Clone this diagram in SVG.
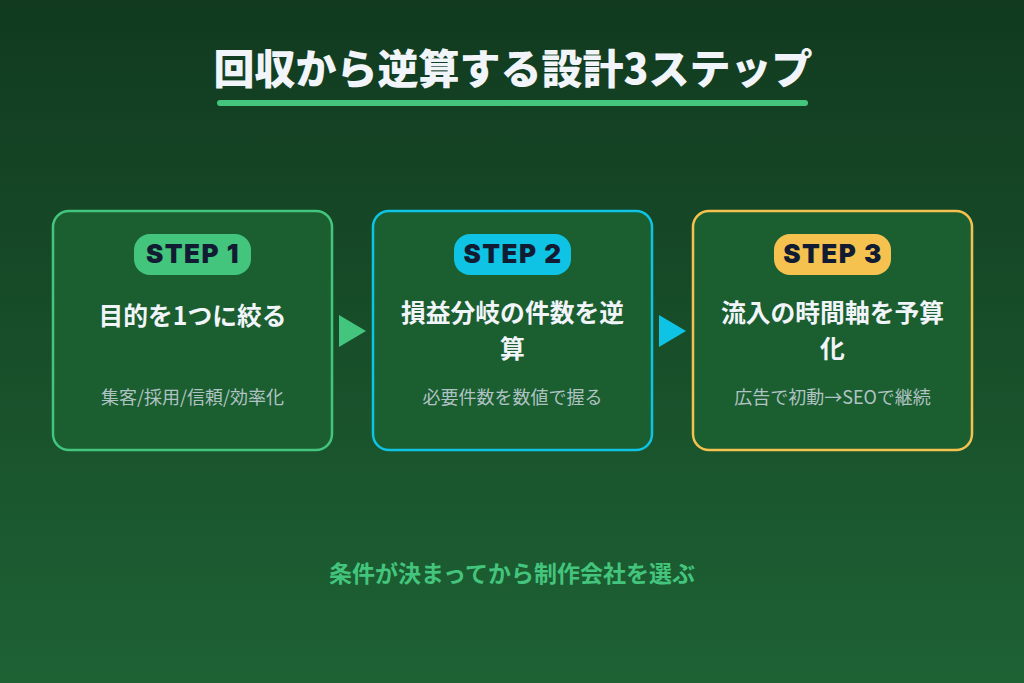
<svg xmlns="http://www.w3.org/2000/svg" width="1024" height="683" viewBox="0 0 1024 683">
<defs>
<linearGradient id="bg" x1="0" y1="0" x2="0" y2="1">
<stop offset="0" stop-color="#113a1f"/>
<stop offset="1" stop-color="#1e6234"/>
</linearGradient>
<style>
.card{fill:#1b5e30;stroke-width:2.5}
.badge-t{font-family:Inter,"Liberation Sans",sans-serif;font-weight:900;font-size:26px;letter-spacing:1.5px;fill:#111c33;text-anchor:middle}
.head{font-family:"Noto Sans CJK JP",sans-serif;font-weight:700;font-size:24.8px;fill:#f1f5f9;text-anchor:middle}
.sub{font-family:"Noto Sans CJK JP",sans-serif;font-size:18px;fill:#b0c3c4;text-anchor:middle}
</style>
</defs>
<rect width="1024" height="683" fill="url(#bg)"/>
<g id="title">
<text x="513" y="84" text-anchor="middle" font-family="'Noto Sans CJK JP',sans-serif" font-weight="900" font-size="41" fill="#f1f5f9">回収から逆算する設計3ステップ</text>
<rect x="217" y="100" width="591" height="6" rx="3" fill="#43c57d"/>
</g>
<g id="step1">
<rect class="card" x="53" y="211" width="279" height="239" rx="16" stroke="#43c57d"/>
<rect x="134" y="234" width="117" height="41" rx="16" fill="#43c57d"/>
<text class="badge-t" x="193" y="263">STEP 1</text>
<text class="head" x="192.5" y="325">目的を1つに絞る</text>
<text class="sub" x="192.5" y="404">集客/採用/信頼/効率化</text>
</g>
<g id="step2">
<rect class="card" x="373" y="211" width="279" height="239" rx="16" stroke="#0fc3e4"/>
<rect x="454" y="234" width="117" height="41" rx="16" fill="#0fc3e4"/>
<text class="badge-t" x="513" y="263">STEP 2</text>
<text class="head" x="512.5" y="322">損益分岐の件数を逆</text>
<text class="head" x="512.5" y="358">算</text>
<text class="sub" x="512.5" y="404">必要件数を数値で握る</text>
</g>
<g id="step3">
<rect class="card" x="693" y="211" width="279" height="239" rx="16" stroke="#f5c24f"/>
<rect x="774" y="234" width="117" height="41" rx="16" fill="#f5c24f"/>
<text class="badge-t" x="833" y="263">STEP 3</text>
<text class="head" x="832.5" y="322">流入の時間軸を予算</text>
<text class="head" x="832.5" y="358">化</text>
<text class="sub" x="832.5" y="404">広告で初動→SEOで継続</text>
</g>
<g id="connectors">
<polygon points="339,315 366,331 339,347" fill="#43c57d"/>
<polygon points="659,315 686,331 659,347" fill="#0fc3e4"/>
</g>
<g id="footer">
<text x="512" y="582" text-anchor="middle" font-family="'Noto Sans CJK JP',sans-serif" font-weight="700" font-size="23" fill="#43c57d">条件が決まってから制作会社を選ぶ</text>
</g>
</svg>
